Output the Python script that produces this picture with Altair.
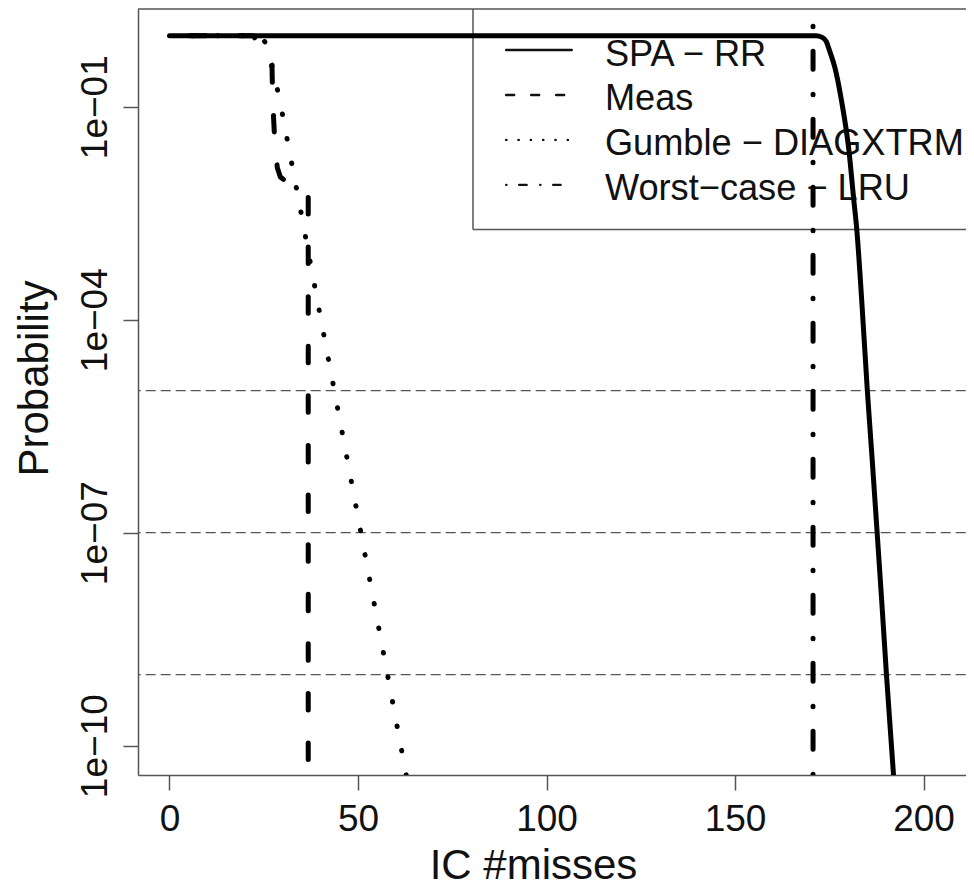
import altair as alt
import pandas as pd

FONT = "Liberation Sans"
INK = "#111111"
FRAME = "#555555"

# ---------------- data ----------------
x_ticks = [0, 50, 100, 150, 200]
y_ticks = [1e-1, 1e-4, 1e-7, 1e-10]
y_tick_labels = ["1e\u221201", "1e\u221204", "1e\u221207", "1e\u221210"]
threshold_probs = [1e-5, 1e-7, 1e-9]

# SPA - RR (solid): x, log10(probability)
spa_x = [0, 50, 100, 150, 171.5, 173.0, 174.2, 175.0, 176.5, 178.2, 180.2, 181.5, 182.3, 183.6,
         185.1, 186.4, 187.7, 188.9, 190.2, 192.0, 192.6]
spa_log = [0, 0, 0, 0, 0, -0.02, -0.08, -0.20, -0.45, -0.90, -1.61, -2.31, -2.73, -3.72,
           -5.0, -5.98, -7.0, -7.95, -9.02, -10.38, -10.85]

# Meas (dashed)
meas_x = [0, 22.2, 24.3, 26.5, 27.2, 27.3, 27.6, 27.9, 28.6, 29.4, 31.3, 35.0, 36.8, 36.8]
meas_log = [0, 0, -0.16, -0.33, -0.45, -0.74, -1.15, -1.47, -1.86, -1.99, -2.07, -2.16, -2.21, -10.8]

# Gumble - DIAGXTRM (dotted)
gum_x = [0, 20, 22, 23, 24, 25, 26, 27, 28, 29, 30, 31, 32, 34, 36, 40, 45, 50, 55, 60, 64]
gum_log = [0, 0, 0, -0.0002, -0.0085, -0.06, -0.18, -0.37, -0.60, -0.86, -1.12, -1.40, -1.68,
           -2.24, -2.81, -3.95, -5.36, -6.78, -8.20, -9.62, -10.76]

# Worst-case - LRU (dot-dash vertical)
worst_case_x = 170.7

legend_labels = ["SPA \u2212 RR", "Meas", "Gumble \u2212 DIAGXTRM", "Worst\u2212case \u2212 LRU"]

# ---------------- scales / axes ----------------
X_MIN, X_MAX = -8.355, 211.27
LOG_TOP, LOG_BOT = 0.376, -10.413

xscale = alt.Scale(domain=[X_MIN, X_MAX], nice=False, zero=False)
yscale = alt.Scale(type="log", domain=[10 ** LOG_BOT, 10 ** LOG_TOP], nice=False)

expr = "'" + y_tick_labels[-1] + "'"
for t, lab in reversed(list(zip(y_ticks[:-1], y_tick_labels[:-1]))):
    expr = f"datum.value > {t / 10:g} ? '{lab}' : " + expr

common_axis = dict(
    grid=False, tickSize=15, tickWidth=1.5, tickColor=FRAME,
    domainColor=FRAME, domainWidth=1.5,
    labelFont=FONT, labelFontSize=37, labelColor=INK,
    labelOverlap=False, labelFlush=False,
    titleFont=FONT, titleFontSize=42, titleFontWeight="normal", titleColor=INK,
    titleBaseline="alphabetic", titleAlign="center",
)

xaxis = alt.Axis(values=x_ticks, labelPadding=11, titleX=395, titleY=103, **common_axis)
yaxis = alt.Axis(values=y_ticks, labelExpr=expr, labelAngle=270, labelAlign="center",
                 labelBaseline="alphabetic", labelPadding=17,
                 titleAngle=270, titleX=-91, titleY=369, **common_axis)

XT = "IC #misses"
YT = "Probability"


def X(field):
    return alt.X(field, type="quantitative", scale=xscale, axis=xaxis, title=XT)


def Y(field):
    return alt.Y(field, type="quantitative", scale=yscale, axis=yaxis, title=YT)


def XD(v):
    return alt.XDatum(v, type="quantitative", scale=xscale, axis=xaxis, title=XT)


def YD(v):
    return alt.YDatum(v, type="quantitative", scale=yscale, axis=yaxis, title=YT)


def curve(xs, logs):
    return pd.DataFrame({"x": xs, "p": [10 ** v for v in logs], "i": list(range(len(xs)))})


one = pd.DataFrame({"a": [0]})

# thresholds
thr = alt.Chart(pd.DataFrame({"p": threshold_probs})).mark_rule(
    color=FRAME, strokeWidth=1.3, strokeDash=[10, 5], strokeDashOffset=14.7
).encode(y=Y("p"))

# top frame line
top = alt.Chart(one).mark_rule(color=FRAME, strokeWidth=1.5).encode(y=YD(10 ** LOG_TOP))

# legend box
LEG_LEFT = 80.5
LEG_BOTTOM = 10 ** -2.73
leg_left = alt.Chart(one).mark_rule(color=FRAME, strokeWidth=1.5).encode(
    x=XD(LEG_LEFT), y=YD(10 ** LOG_TOP), y2=alt.Y2Datum(LEG_BOTTOM))
leg_bottom = alt.Chart(one).mark_rule(color=FRAME, strokeWidth=1.5).encode(
    y=YD(LEG_BOTTOM), x=XD(LEG_LEFT), x2=alt.X2Datum(X_MAX))

text_logs = [-0.42 - 0.633 * k for k in range(len(legend_labels))]
leg_df = pd.DataFrame({"label": legend_labels, "p": [10 ** v for v in text_logs]})
leg_text = alt.Chart(leg_df).mark_text(
    align="left", baseline="alphabetic", font=FONT, fontSize=36.2, color=INK
).encode(x=XD(115.5), y=Y("p"), text="label:N")

sample_dashes = [None, [8, 17], [0.3, 12], [0.3, 12.7, 7.5, 13.5]]
samples = []
for k, dash in enumerate(sample_dashes):
    kw = dict(color=INK, strokeWidth=2.4, strokeCap="round")
    if dash is not None:
        kw["strokeDash"] = dash
    samples.append(
        alt.Chart(one).mark_rule(**kw).encode(
            x=XD(89.3), x2=alt.X2Datum(106.7), y=YD(10 ** (text_logs[k] + 0.218)))
    )

line_kw = dict(color="black", strokeWidth=5, strokeCap="round", strokeJoin="round", clip=True)

meas = alt.Chart(curve(meas_x, meas_log)).mark_line(
    strokeDash=[16.5, 33.1], strokeDashOffset=29.5, interpolate="linear", **line_kw
).encode(x=X("x"), y=Y("p"), order="i:Q")

gum = alt.Chart(curve(gum_x, gum_log)).mark_line(
    strokeDash=[0.5, 24.4], strokeDashOffset=1.8, interpolate="monotone", **line_kw
).encode(x=X("x"), y=Y("p"), order="i:Q")

spa = alt.Chart(curve(spa_x, spa_log)).mark_line(
    interpolate="monotone", **line_kw
).encode(x=X("x"), y=Y("p"), order="i:Q")

worst = alt.Chart(one).mark_rule(
    color="black", strokeWidth=5, strokeCap="round",
    strokeDash=[18, 25, 0.5, 24.5], strokeDashOffset=25.8, clip=True
).encode(x=XD(worst_case_x))

chart = alt.layer(
    thr, top, leg_left, leg_bottom, leg_text, *samples, meas, gum, spa, worst
).properties(
    width=828, height=766,
    autosize=alt.AutoSizeParams(type="none"),
    padding={"left": 130, "top": 1, "right": 0, "bottom": 113},
    background="white",
).configure_view(stroke=None)

chart.save("out.html", embed_options={"renderer": "svg", "actions": False})
